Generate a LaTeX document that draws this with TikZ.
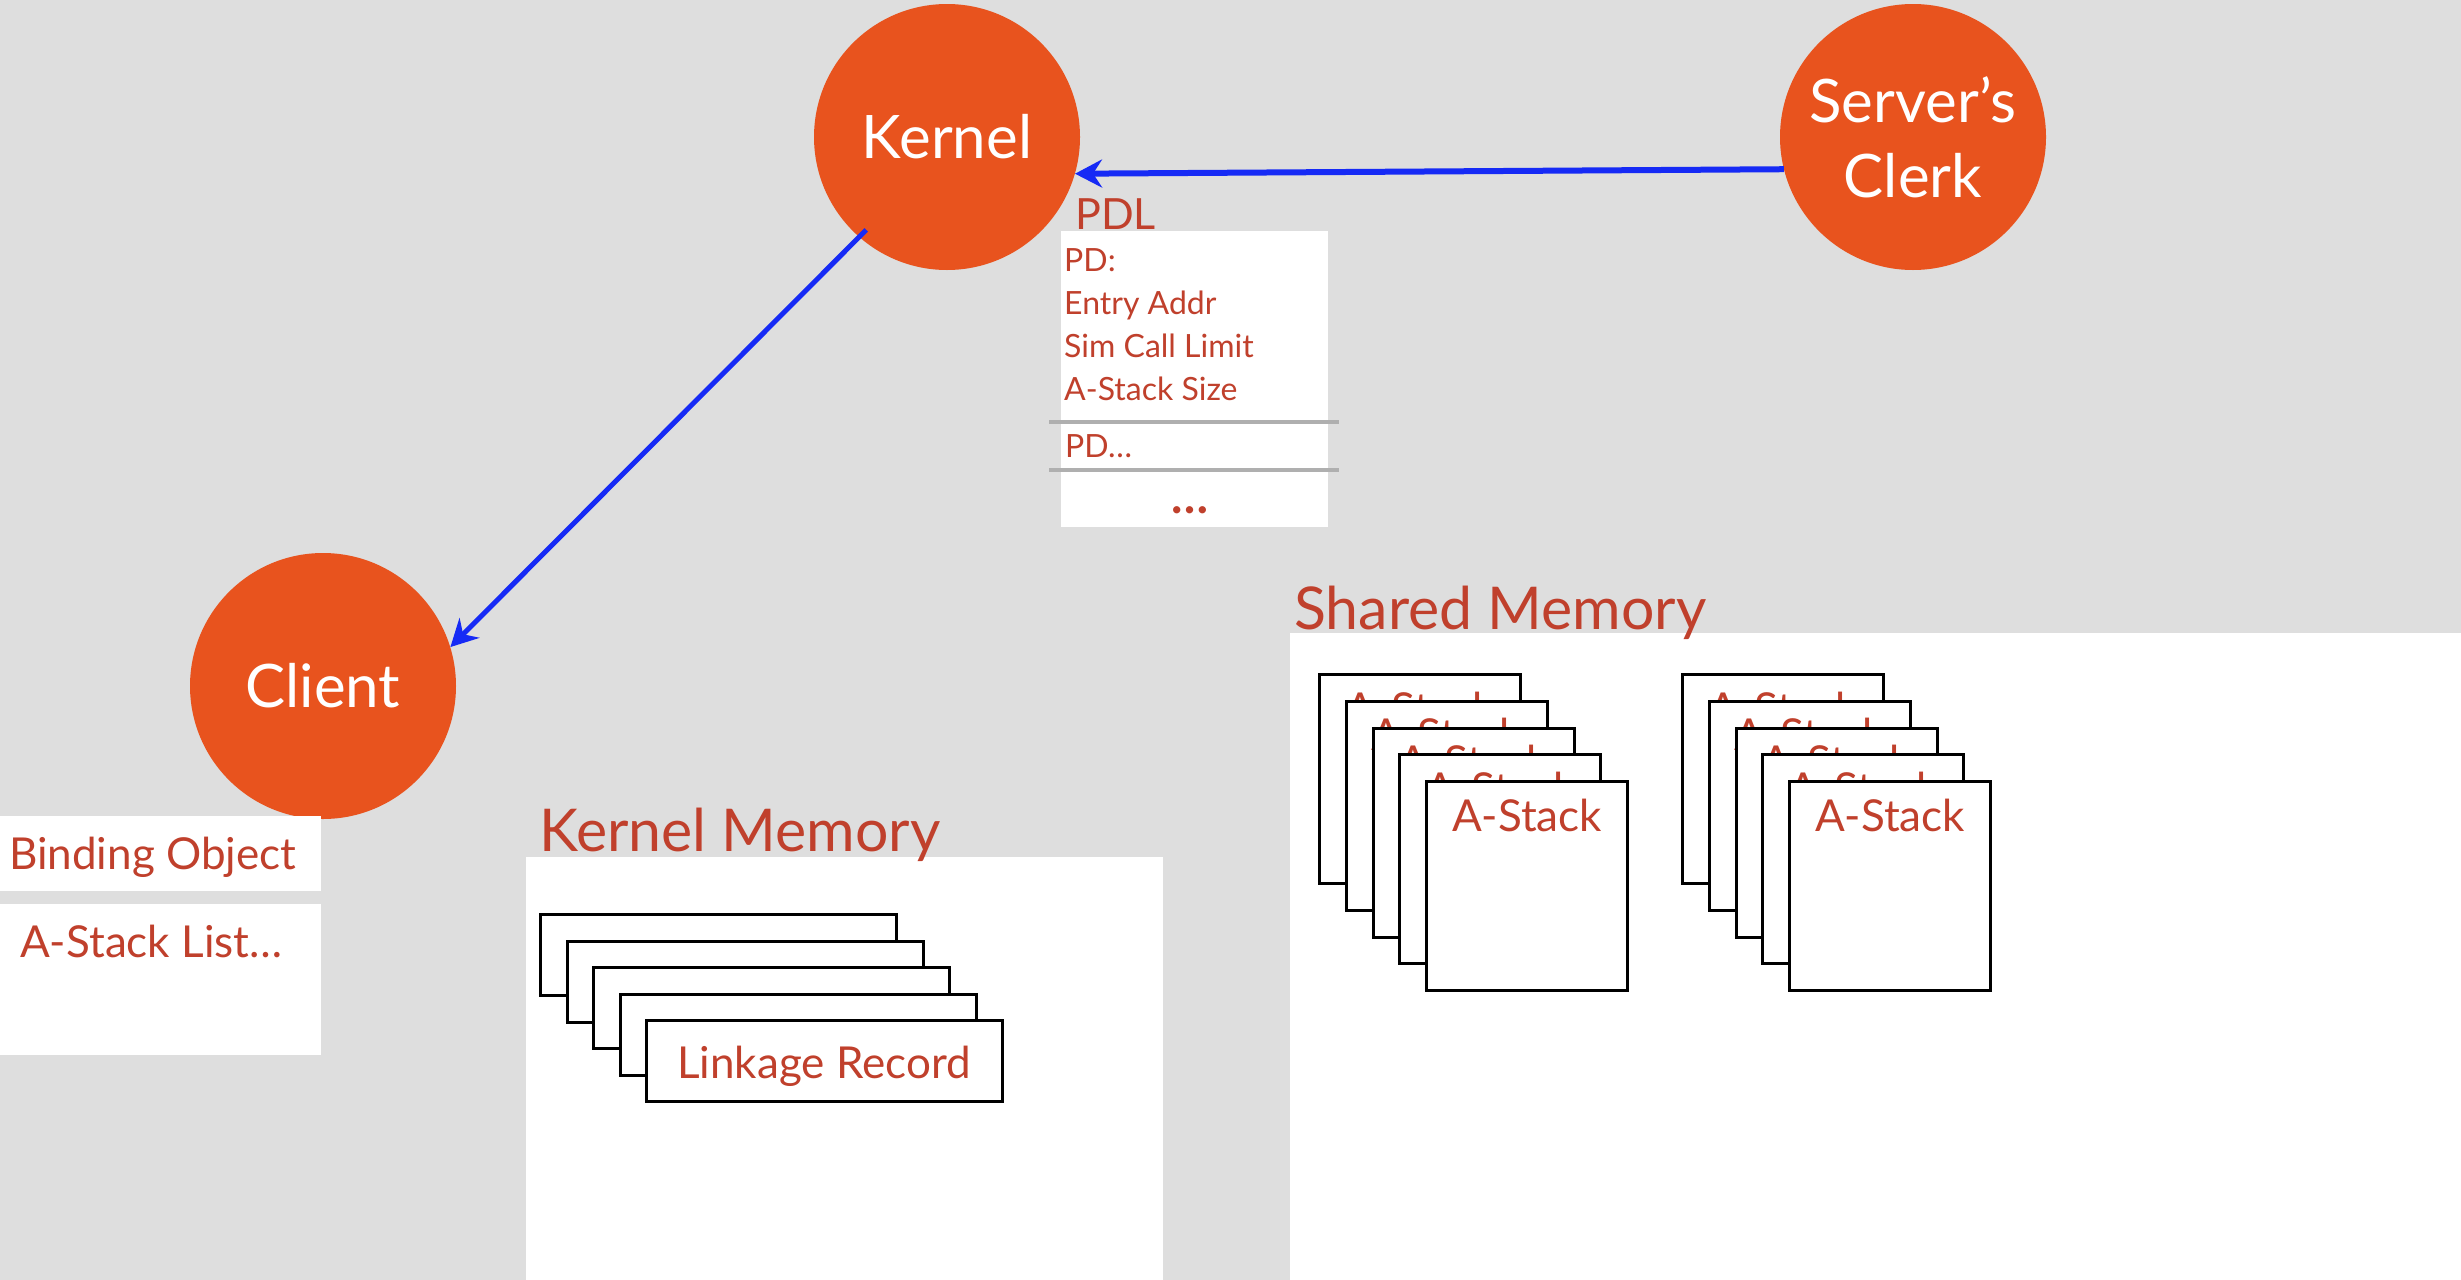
\documentclass[tikz,border=0pt]{standalone}
\usepackage{fontspec}
\setmainfont{Lato}
\usetikzlibrary{arrows.meta,calc}

\definecolor{bgpaper}{RGB}{222,222,222}
\definecolor{discorange}{RGB}{232,83,30}
\definecolor{labelred}{RGB}{192,64,44}
\definecolor{linkblue}{RGB}{22,42,245}
\definecolor{rulegray}{RGB}{175,175,175}

\newcommand{\pxfont}[1]{\fontsize{#1}{#1}\selectfont}

\begin{document}
\begin{tikzpicture}[x=1pt,y=-1pt,
  disc/.style={circle, fill=discorange, minimum size=266pt, inner sep=0pt,
    text=white, font=\fontsize{60}{75}\selectfont, align=center},
  panel/.style={fill=white, draw=none, inner sep=0pt, anchor=north west},
  card/.style={fill=white, draw=black, line width=3pt, inner sep=0pt, anchor=north west},
  stackcard/.style={card, minimum width=201pt, minimum height=209pt},
  linkcard/.style={card, minimum width=356pt, minimum height=81pt},
  redtext/.style={text=labelred, inner sep=0pt, anchor=base west},
  heading/.style={redtext, font=\pxfont{59}},
  itemtext/.style={redtext, font=\pxfont{44}},
  pdtext/.style={redtext, font=\pxfont{32}},
  stacktext/.style={text=labelred, inner sep=0pt, anchor=base, font=\pxfont{44}},
  link/.style={draw=linkblue, line width=6pt,
    -{Stealth[length=27pt,width=28pt,inset=9pt]}},
  sep/.style={draw=rulegray, line width=4pt}
]
% paper
\fill[bgpaper] (0,0) rectangle (2461,1280);
\useasboundingbox (0,0) rectangle (2461,1280);

% actors
\node[disc] (kernel) at (947,137) {Kernel};
\node[disc] (clerk) at (1913,137) {Server’s\\Clerk};
\node[disc] (client) at (323,686) {Client};

% procedure descriptor list
\node[redtext, font=\pxfont{43}] (pdltitle) at (1075,229) {PDL};
\node[panel, minimum width=267pt, minimum height=296pt] (pdl) at (1061,231) {};
\coordinate (sepAl) at (1049,422); \coordinate (sepAr) at (1339,422);
\coordinate (sepBl) at (1049,470); \coordinate (sepBr) at (1339,470);
\draw[sep] (sepAl) -- (sepAr);
\draw[sep] (sepBl) -- (sepBr);
\node[pdtext] (pd1) at (1064,271) {PD:};
\node[pdtext] (pd2) at (1064,314) {Entry Addr};
\node[pdtext] (pd3) at (1064,357) {Sim Call Limit};
\node[pdtext] (pd4) at (1064,400) {A-Stack Size};
\node[pdtext] (pd5) at (1065,457) {PD…};
\node[text=labelred, inner sep=0pt, anchor=base, font=\pxfont{48}\bfseries] (pd6) at (1190,513) {…};

% client side
\node[panel, minimum width=321pt, minimum height=75pt] (bindbox) at (0,816) {};
\node[itemtext] (bindtext) at (9,869) {Binding Object};
\node[panel, minimum width=321pt, minimum height=151pt] (listbox) at (0,904) {};
\node[itemtext] (listtext) at (20,957) {A-Stack List…};

% kernel memory
\node[panel, minimum width=637pt, minimum height=423pt] (kmem) at (526,857) {};
\node[heading] (kmemtitle) at (539,851) {Kernel Memory};
\foreach \i in {0,...,4} {
  \node[linkcard] (lr\i) at ({539+26.5*\i},{913+26.5*\i}) {};
}
\node[itemtext, anchor=base] (lrtext) at (824,1078) {Linkage Record};

% shared memory
\node[panel, minimum width=1171pt, minimum height=647pt] (smem) at (1290,633) {};
\node[heading] (smemtitle) at (1294,629) {Shared Memory};
\foreach \s/\x in {a/1318, b/1681} {
  \foreach \i in {0,...,4} {
    \node[stackcard] (st\s\i) at ({\x+26.75*\i},{673+26.75*\i}) {};
    \node[stacktext] (st\s\i text) at ($(st\s\i.north)+(0,51)$) {A-Stack};
  }
}

% calls
\draw[link] (clerk.194) -- (kernel.-16);
\draw[link, line width=5pt] ($(kernel.center)+(229:123pt)$) -- (client.17);
\end{tikzpicture}
\end{document}
